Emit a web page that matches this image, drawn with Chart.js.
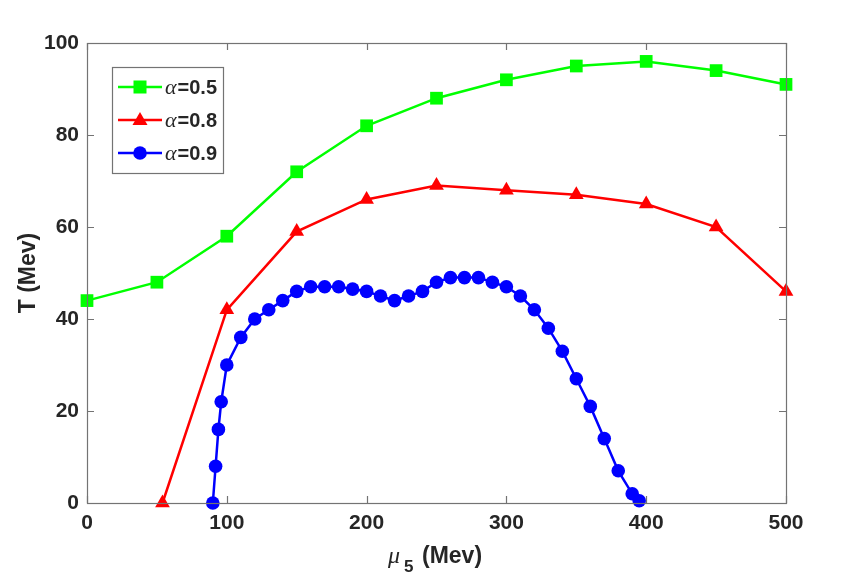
<!DOCTYPE html>
<html>
<head>
<meta charset="utf-8">
<script src="https://cdn.jsdelivr.net/npm/chart.js@4.4.1/dist/chart.umd.min.js"></script>
<style>
html,body{margin:0;padding:0;background:#fff;}
#wrap{width:844px;height:579px;position:relative;}
</style>
</head>
<body>
<div id="wrap"><canvas id="c" width="844" height="579"></canvas></div>
<script>
// ---- data ----
const seriesLabels = ['\u03b1=0.5', '\u03b1=0.8', '\u03b1=0.9'];
const greenX = [0, 50, 100, 150, 200, 250, 300, 350, 400, 450, 500];
const greenY = [44, 48, 58, 72, 82, 88, 92, 95, 96, 94, 91];
const redX = [54, 100, 150, 200, 250, 300, 350, 400, 450, 500];
const redY = [0, 42, 59, 66, 69, 68, 67, 65, 60, 46];
const blueX = [90, 92, 94, 96, 100, 110, 120, 130, 140, 150, 160, 170, 180, 190, 200, 210, 220, 230, 240, 250, 260, 270, 280, 290, 300, 310, 320, 330, 340, 350, 360, 370, 380, 390, 395];
const blueY = [0, 8, 16, 22, 30, 36, 40, 42, 44, 46, 47, 47, 47, 46.5, 46, 45, 44, 45, 46, 48, 49, 49, 49, 48, 47, 45, 42, 38, 33, 27, 21, 14, 7, 2, 0.5];
const xTicks = [0, 100, 200, 300, 400, 500];
const yTicks = [0, 20, 40, 60, 80, 100];

const pts = (xs, ys) => xs.map((x, i) => ({x: x, y: ys[i]}));
const AXC = '#737373';
const TXT = '#262626';

const boxTicks = {
  id: 'boxTicks',
  afterDatasetsDraw(chart) {
    const ctx = chart.ctx, a = chart.chartArea;
    const xs = chart.scales.x, ys = chart.scales.y;
    ctx.save();
    ctx.strokeStyle = AXC;
    ctx.lineWidth = 1.2;
    ctx.beginPath();
    xTicks.forEach(v => {
      const px = Math.round(xs.getPixelForValue(v)) + 0.5;
      ctx.moveTo(px, a.bottom); ctx.lineTo(px, a.bottom - 7);
      ctx.moveTo(px, a.top); ctx.lineTo(px, a.top + 7);
    });
    yTicks.forEach(v => {
      const py = Math.round(ys.getPixelForValue(v)) + 0.5;
      ctx.moveTo(a.left, py); ctx.lineTo(a.left + 7, py);
      ctx.moveTo(a.right, py); ctx.lineTo(a.right - 7, py);
    });
    ctx.stroke();
    ctx.strokeRect(Math.round(a.left) + 0.5, Math.round(a.top) + 0.5, Math.round(a.right - a.left), Math.round(a.bottom - a.top));
    ctx.restore();
  },
  afterDraw(chart) {
    const ctx = chart.ctx, a = chart.chartArea;
    ctx.save();
    // legend
    const lx = 112, ly = 67, lw = 111, lh = 106;
    ctx.fillStyle = '#fff';
    ctx.fillRect(lx, ly, lw, lh);
    ctx.strokeStyle = AXC; ctx.lineWidth = 1.2;
    ctx.strokeRect(lx + 0.5, ly + 0.5, lw, lh);
    const rows = [87, 120, 153];
    chart.data.datasets.forEach((ds, i) => {
      const y = rows[i];
      ctx.strokeStyle = ds.borderColor; ctx.lineWidth = 2.5;
      ctx.beginPath(); ctx.moveTo(118, y); ctx.lineTo(162, y); ctx.stroke();
      ctx.fillStyle = ds.pointBackgroundColor;
      const s = ds.pointStyle;
      ctx.beginPath();
      if (s === 'rect') { ctx.fillRect(140 - 6.5, y - 6.5, 13, 13); }
      else if (s === 'triangle') { ctx.moveTo(140, y - 8); ctx.lineTo(147.5, y + 5); ctx.lineTo(132.5, y + 5); ctx.closePath(); ctx.fill(); }
      else { ctx.arc(140, y, 6.8, 0, Math.PI * 2); ctx.fill(); }
      const lab = ds.label;
      ctx.fillStyle = TXT;
      ctx.textBaseline = 'alphabetic'; ctx.textAlign = 'left';
      ctx.font = 'italic 22px "Liberation Serif"';
      ctx.fillText(lab.charAt(0), 165, y + 7);
      const w = ctx.measureText(lab.charAt(0)).width;
      ctx.font = 'bold 20px "Liberation Sans"';
      ctx.fillText(lab.slice(1), 165 + w + 1, y + 7);
    });
    // x title
    ctx.fillStyle = TXT;
    ctx.textBaseline = 'alphabetic';
    ctx.font = 'italic 24px "Liberation Serif"';
    ctx.fillText('\u03bc', 388, 563);
    ctx.font = 'bold 17px "Liberation Sans"';
    ctx.fillText('5', 404, 572);
    ctx.font = 'bold 23px "Liberation Sans"';
    ctx.fillText('(Mev)', 422, 563);
    // y title
    ctx.save();
    ctx.translate(35, (a.top + a.bottom) / 2);
    ctx.rotate(-Math.PI / 2);
    ctx.textAlign = 'center';
    ctx.font = 'bold 23px "Liberation Sans"';
    ctx.fillText('T (Mev)', 0, 0);
    ctx.restore();
    ctx.restore();
  }
};

const mk = (label, xs, ys, color, style, r) => ({
  label: label,
  data: pts(xs, ys),
  borderColor: color,
  backgroundColor: color,
  pointBackgroundColor: color,
  pointBorderColor: color,
  pointBorderWidth: 0,
  pointStyle: style,
  pointRadius: r,
  pointHoverRadius: r,
  borderWidth: 2.5,
  showLine: true,
  tension: 0,
  clip: false
});

new Chart(document.getElementById('c'), {
  type: 'scatter',
  data: {
    datasets: [
      mk(seriesLabels[0], greenX, greenY, '#00ff00', 'rect', 9),
      mk(seriesLabels[1], redX, redY, '#ff0000', 'triangle', 8.5),
      mk(seriesLabels[2], blueX, blueY, '#0000ff', 'circle', 6.8)
    ]
  },
  options: {
    responsive: false,
    animation: false,
    events: [],
    layout: {padding: {left: 0, right: 58, top: 43, bottom: 0}},
    plugins: {legend: {display: false}, tooltip: {enabled: false}},
    scales: {
      x: {
        type: 'linear', min: 0, max: 500,
        afterFit: s => { s.height = 76; },
        afterBuildTicks: s => { s.ticks = xTicks.map(v => ({value: v})); },
        grid: {display: false, drawTicks: false},
        border: {display: false},
        ticks: {color: TXT, font: {family: 'Liberation Sans', size: 21, weight: 'bold'}, padding: 8, maxRotation: 0}
      },
      y: {
        type: 'linear', min: 0, max: 100,
        afterFit: s => { s.width = 87; },
        afterBuildTicks: s => { s.ticks = yTicks.map(v => ({value: v})); },
        grid: {display: false, drawTicks: false},
        border: {display: false},
        ticks: {color: TXT, font: {family: 'Liberation Sans', size: 21, weight: 'bold'}, padding: 8}
      }
    }
  },
  plugins: [boxTicks]
});
</script>
</body>
</html>
